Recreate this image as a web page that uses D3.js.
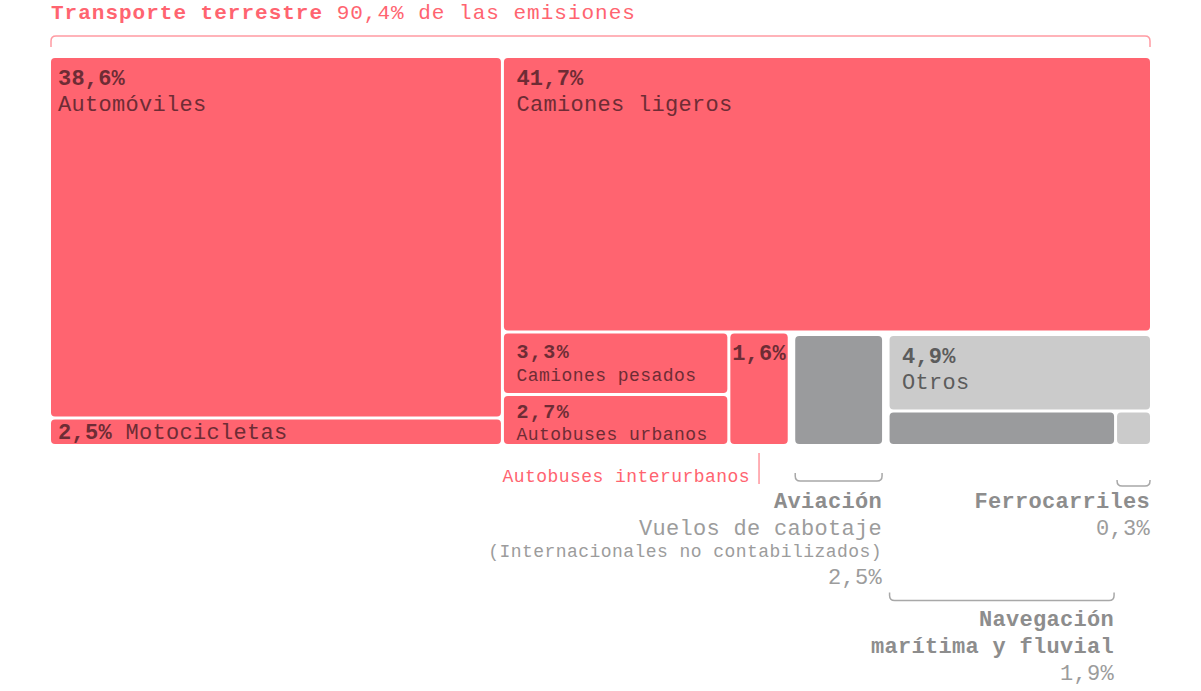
<!DOCTYPE html>
<html>
<script src="https://d3js.org/d3.v7.min.js"></script>
<style>
    body {
        margin: 0;
        background: #fff;
    }

    text {
        font-family: "Liberation Mono", "DejaVu Sans Mono", monospace;
    }
</style>

<body></body>
<script>
    // emisiones de GEI del transporte, % del total
    const categorias = ["Automóviles", "Motocicletas", "Camiones ligeros", "Camiones pesados", "Autobuses urbanos",
        "Autobuses interurbanos", "Vuelos de cabotaje", "Otros", "Navegación marítima y fluvial", "Ferrocarriles"];
    const emisiones = [38.6, 2.5, 41.7, 3.3, 2.7, 1.6, 2.5, 4.9, 1.9, 0.3];
    const terrestre = [1, 1, 1, 1, 1, 1, 0, 0, 0, 0];
    const grupo = ["col", "col", "resto", "pesados", "pesados", "fila", "Aviación", "otros", "abajo", "abajo"];
    const subgrupos = ["col", "resto", "fila", "pesados", "Aviación", "otros", "abajo"];
    const subgrupoPadre = ["total", "total", "resto", "fila", "fila", "fila", "otros"];

    // notas bajo el gráfico
    const notaCategoria = ["Vuelos de cabotaje", "Ferrocarriles", "Navegación marítima y fluvial"];
    const notaTitulo = [["Aviación"], ["Ferrocarriles"], ["Navegación", "marítima y fluvial"]];
    const notaTexto = [["Vuelos de cabotaje", "(Internacionales no contabilizados)"], [], []];

    const width = 1201,
        height = 691;
    const X0 = 51, Y0 = 58, W = 1099, H = 386;
    const red = "#ff6470", redText = "#6e2c35";
    const notaLlave = [481, 486, 600.5], notaAlto = [8, 6, 8], notaInicio = [508, 508, 626];

    const fmt = d3.formatLocale({ decimal: ",", thousands: ".", grouping: [3], currency: ["", "€"] }).format(".1f");
    const pct = v => fmt(v) + "%";
    const esTerrestre = name => terrestre[categorias.indexOf(name)] === 1;

    const rows = [{ id: "total", parentId: null }]
        .concat(subgrupos.map((s, i) => ({ id: s, parentId: subgrupoPadre[i] })))
        .concat(categorias.map((c, i) => ({ id: c, parentId: grupo[i], share: emisiones[i] })));

    const root = d3.stratify()(rows)
        .sum(d => d.share || 0)
        .sort((a, b) => d3.min(a.leaves(), l => categorias.indexOf(l.id)) - d3.min(b.leaves(), l => categorias.indexOf(l.id)));

    // los bloques de otros modos van un poco separados
    const apartado = n => n.parent && n.parent.id === "fila" && n.children && n.leaves().every(l => !esTerrestre(l.id));

    // slice/dice, con una altura minima para que quepa una linea de texto
    function tile(node, x0, y0, x1, y1) {
        d3.treemapSliceDice(node, x0, y0, x1, y1);
        const kids = node.children;
        if (node.depth % 2 === 1 && kids.length > 1) {
            const last = kids[kids.length - 1], prev = kids[kids.length - 2];
            const dy = 27.5 - (last.y1 - last.y0);
            if (dy > 0) {
                last.y0 -= dy;
                prev.y1 -= dy;
            }
        }
    }

    d3.treemap()
        .tile(tile)
        .size([W, H])
        .paddingInner(3)
        .paddingLeft(n => apartado(n) ? 4.5 : 0)
        .paddingTop(n => apartado(n) ? 2.5 : 0)(root);

    const svg = d3.select("body").append("svg").attr("width", width).attr("height", height);

    const gris = d3.scaleOrdinal()
        .domain(categorias.filter((c, i) => !terrestre[i]))
        .range(["#9a9b9d", "#cbcbcb"]);
    const fill = name => esTerrestre(name) ? red : gris(name);

    // titulo
    const total = d3.sum(emisiones.filter((v, i) => terrestre[i]));
    const title = svg.append("text")
        .attr("x", 51)
        .attr("y", 19)
        .attr("fill", red)
        .style("font-size", "21px")
        .style("letter-spacing", "1px");
    title.append("tspan").attr("font-weight", "bold").text("Transporte terrestre");
    title.append("tspan").text(" " + pct(total) + " de las emisiones");

    function llaveAbajo(x0, x1, y, h, r) {
        return `M${x0},${y + h}V${y + r}Q${x0},${y} ${x0 + r},${y}H${x1 - r}Q${x1},${y} ${x1},${y + r}V${y + h}`;
    }

    function llaveArriba(x0, x1, y, h, r) {
        return `M${x0},${y - h}V${y - r}Q${x0},${y} ${x0 + r},${y}H${x1 - r}Q${x1},${y} ${x1},${y - r}V${y - h}`;
    }

    svg.append("path")
        .attr("d", llaveAbajo(X0 + root.x0, X0 + root.x1, 36, 11, 5))
        .attr("fill", "none")
        .attr("stroke", "#ff9ba2")
        .attr("stroke-width", 1.5);

    const g = svg.append("g").attr("transform", `translate(${X0},${Y0})`);
    const leaves = root.leaves();

    g.selectAll("rect")
        .data(leaves)
        .join("rect")
        .attr("x", d => d.x0)
        .attr("y", d => d.y0)
        .attr("width", d => d.x1 - d.x0)
        .attr("height", d => d.y1 - d.y0)
        .attr("rx", 4)
        .attr("fill", d => fill(d.id));

    const adv = (size, ls) => size * 0.6 + ls;

    leaves.filter(d => !notaCategoria.includes(d.id)).forEach(d => {
        const w = d.x1 - d.x0, h = d.y1 - d.y0;
        const big = h > 65;
        const numSize = big ? 22 : 20, numLs = big ? 0.2 : 1.4;
        const nameSize = big ? 22 : 18, nameLs = big ? 0.3 : 0.45;
        const pad = d.x0 === 0 ? 7 : 12.5;
        const color = esTerrestre(d.id) ? redText : "#5c5c5c";
        const numW = adv(numSize, numLs) * pct(d.value).length;
        const nameW = adv(nameSize, nameLs) * d.id.length;

        if (h < 35) {
            const t = g.append("text")
                .attr("x", d.x0 + pad)
                .attr("y", d.y1 - 5)
                .attr("fill", color)
                .style("font-size", "22px")
                .style("letter-spacing", "0.3px");
            t.append("tspan").attr("font-weight", "bold").text(pct(d.value));
            t.append("tspan").text(" " + d.id);
            return;
        }

        const narrow = numW + 2 * pad > w;
        let numY = d.y0 + (big ? 27 : 25);
        let nameY = numY + (big ? 26 : 22.5);
        if (nameY > d.y1 - 4) {
            nameY = d.y1 - 4;
            numY = nameY - 22;
        }
        g.append("text")
            .attr("x", narrow ? (d.x0 + d.x1) / 2 : d.x0 + pad)
            .attr("y", numY)
            .attr("text-anchor", narrow ? "middle" : "start")
            .attr("fill", color)
            .attr("font-weight", "bold")
            .style("font-size", numSize + "px")
            .style("letter-spacing", numLs + "px")
            .text(pct(d.value));

        if (!narrow && nameW + pad < w) {
            g.append("text")
                .attr("x", d.x0 + pad)
                .attr("y", nameY)
                .attr("fill", color)
                .style("font-size", nameSize + "px")
                .style("letter-spacing", nameLs + "px")
                .text(d.id);
        } else {
            // nombre fuera, con una linea
            const cx = (d.x0 + d.x1) / 2;
            g.append("line")
                .attr("x1", cx).attr("x2", cx)
                .attr("y1", d.y1 + 9).attr("y2", d.y1 + 40)
                .attr("stroke", "#ff959d")
                .attr("stroke-width", 1.5);
            g.append("text")
                .attr("x", cx - 9)
                .attr("y", d.y1 + 37.7)
                .attr("text-anchor", "end")
                .attr("fill", red)
                .style("font-size", "18px")
                .style("letter-spacing", "0.45px")
                .text(d.id);
        }
    });

    // notas de otros modos
    notaCategoria.forEach((c, i) => {
        const d = leaves.find(l => l.id === c);
        const x0 = X0 + d.x0, x1 = X0 + d.x1;
        svg.append("path")
            .attr("d", llaveArriba(x0, x1, notaLlave[i], notaAlto[i], 5))
            .attr("fill", "none")
            .attr("stroke", "#a8a8a8")
            .attr("stroke-width", 1.5);

        const lines = notaTitulo[i].map(t => ({ t, bold: true, small: false }))
            .concat(notaTexto[i].map(t => ({ t, bold: false, small: t.startsWith("(") })))
            .concat([{ t: pct(d.value), bold: false, small: false }]);
        let y = notaInicio[i];
        lines.forEach((l, j) => {
            if (j > 0) y += l.small ? 22 : 27;
            svg.append("text")
                .attr("x", x1)
                .attr("y", y)
                .attr("text-anchor", "end")
                .attr("fill", l.bold ? "#8d8d8d" : "#9c9c9c")
                .attr("font-weight", l.bold ? "bold" : "normal")
                .style("font-size", l.small ? "18px" : "22px")
                .style("letter-spacing", l.small ? "0.45px" : "0.3px")
                .text(l.t);
        });
    });
</script>

</html>
